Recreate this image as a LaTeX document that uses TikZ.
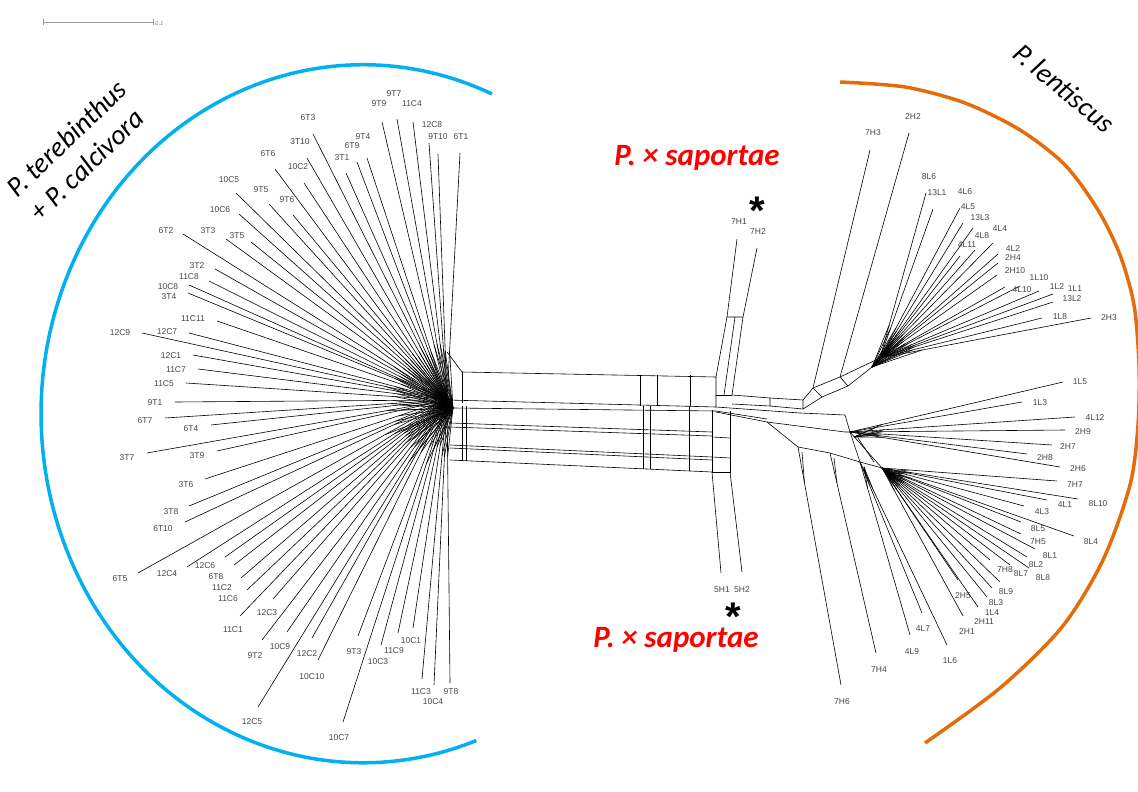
\documentclass[tikz,border=0pt]{standalone}
\usepackage{fontspec}
\setmainfont{Liberation Sans}
\newfontfamily\titlefont{Carlito}
\usetikzlibrary{calc}

\definecolor{cladeblue}{RGB}{0,176,240}
\definecolor{cladeorange}{RGB}{228,108,10}
\definecolor{labgray}{RGB}{70,70,70}

\tikzset{
  leaflab/.style={font=\fontsize{8.5}{9}\selectfont, text=labgray, inner sep=0pt},
  netline/.style={line width=0.6pt, black},
  cladearc/.style={line width=3.5pt},
  taxon/.style={font=\titlefont\itshape\fontsize{28}{33}\selectfont, inner sep=0pt},
  hybrid/.style={font=\titlefont\bfseries\itshape\fontsize{31}{34}\selectfont, text=red, inner sep=0pt},
  hstar/.style={font=\bfseries\fontsize{40}{40}\selectfont, inner sep=0pt, text height=14pt, text depth=0pt},
}

\begin{document}
\begin{tikzpicture}[x=1pt,y=-1pt]
\useasboundingbox (0,0) rectangle (1138,792);

% scale bar
\draw[gray!80, line width=0.6pt] (43,19) -- (43,25) (43,22) -- (153,22) (153,19) -- (153,25);
\node[font=\itshape\fontsize{6}{7}\selectfont, text=gray, anchor=west, inner sep=0pt] (scale) at (155,23) {0.1};

% hubs of the network
\coordinate (HL) at (447,400);
\coordinate (HLb) at (453,408);
\coordinate (HUR) at (880,358);
\coordinate (HURb) at (872,367);
\coordinate (HR1) at (850,432);
\coordinate (HR1b) at (858,438);
\coordinate (HR2) at (882,468);
\coordinate (HR2b) at (874,462);
\coordinate (HR3) at (860,462);
\coordinate (H5a) at (712,472);
\coordinate (H5b) at (730,472);
\coordinate (C7a) at (727,317);
\coordinate (C7m) at (735,317);
\coordinate (C7b) at (743,317);
\coordinate (H73) at (813,388);
\coordinate (H22) at (840,377);
\coordinate (H74) at (830,453);
\coordinate (H76) at (798,447);

% left fan (P. terebinthus + P. calcivora)
\foreach \n/\lx/\ly/\ex/\ey in {9T9/379/104/382/122, 9T7/394/94/397/119, 11C4/412/104/413/122,
  12C8/432/125/429/143, 9T10/438/137/438/154, 6T1/461/137/460/153, 6T3/308/118/313/134,
  3T10/300/142/307/158, 9T4/363/137/367/158, 6T9/352/146/357/162, 3T1/342/158/346/173,
  6T6/268/154/275/169, 10C2/298/167/304/183, 10C5/229/180/236/193, 9T5/261/190/269/204,
  9T6/287/200/293/215, 10C6/220/210/239/214, 6T2/166/231/183/234, 3T3/208/231/226/239,
  3T5/237/236/251/242, 3T2/197/266/215/269, 11C8/189/277/209/281, 10C8/168/287/189/285,
  3T4/169/297/188/293, 11C11/193/319/217/321, 12C9/120/333/142/333, 12C7/167/332/189/333,
  12C1/171/356/193/355, 11C7/176/370/198/369, 11C5/164/384/186/383, 9T1/155/403/175/402,
  6T7/145/421/165/418, 6T4/191/429/211/425, 3T7/127/458/147/453, 3T9/197/456/217/451,
  3T6/186/485/205/479, 3T8/171/512/189/506, 6T10/163/529/185/522, 6T5/120/579/138/573,
  12C4/167/574/187/567, 12C6/205/566/225/557, 6T8/216/577/234/565, 11C2/222/588/241/578,
  11C6/228/599/247/590, 12C3/267/613/273/599, 11C1/233/630/240/616, 10C9/280/647/287/632,
  9T2/255/656/262/640, 12C2/307/654/312/638, 10C10/312/677/318/660, 12C5/252/722/258/707,
  10C7/339/738/343/722, 9T3/354/652/358/636, 10C3/378/662/381/645, 11C9/394/651/398/633,
  10C1/411/641/413/628, 11C3/421/692/422/679, 10C4/433/702/434/685, 9T8/451/692/450/683}{
  \node[leaflab] (t\n) at (\lx,\ly) {\n};
  \coordinate (e\n) at (\ex,\ey);
  \draw[netline] (e\n) -- (HL);
  \draw[netline] ($(e\n)!0.8!(HL)$) -- (HLb);
}

% upper right fan (P. lentiscus)
\foreach \n/\lx/\ly/\ex/\ey in {8L6/929/177/926/193, 13L1/937/193/933/209, 4L6/965/192/960/208,
  4L5/968/207/963/223, 13L3/980/218/973/228, 4L4/1000/229/993/243, 4L8/982/236/975/250,
  4L11/967/245/960/256, 4L2/1013/249/998/254, 2H4/1013/258/998/263, 2H10/1015/271/997/275,
  1L10/1039/278/1020/286, 4L10/1022/290/1005/287, 1L2/1057/287/1039/291, 1L1/1075/289/1053/294,
  13L2/1072/299/1053/302, 1L8/1060/317/1042/318, 2H3/1109/318/1091/318}{
  \node[leaflab] (t\n) at (\lx,\ly) {\n};
  \coordinate (e\n) at (\ex,\ey);
  \draw[netline] (e\n) -- (HUR);
  \draw[netline] ($(e\n)!0.8!(HUR)$) -- (HURb);
}

% lower right fan
\foreach \n/\lx/\ly/\ex/\ey/\h in {1L5/1080/382/1063/382/HR1, 1L3/1040/403/1022/402/HR1,
  4L12/1095/418/1075/417/HR1, 2H9/1083/432/1065/430/HR1, 2H7/1068/447/1052/445/HR1,
  2H8/1045/458/1027/454/HR1, 2H6/1078/469/1060/467/HR1, 7H7/1075/485/1057/481/HR2,
  4L1/1065/505/1047/500/HR2, 8L10/1098/504/1078/499/HR2, 4L3/1042/512/1024/506/HR2,
  8L5/1038/529/1021/522/HR2, 7H5/1038/542/1021/534/HR2, 8L4/1091/542/1074/536/HR2,
  8L1/1050/556/1035/549/HR2, 8L2/1036/565/1027/557/HR2, 7H8/1005/570/990/560/HR2,
  8L7/1021/574/1010/565/HR2, 8L8/1043/578/1029/568/HR2, 8L9/1006/592/1000/582/HR2,
  2H5/963/596/958/580/HR2, 8L3/996/603/992/588/HR2, 1L4/992/613/987/597/HR2,
  2H11/984/622/978/607/HR2, 2H1/967/632/963/616/HR2, 4L7/923/629/922/613/HR3,
  4L9/912/652/910/635/HR3, 1L6/950/661/947/645/HR3, 7H4/879/670/876/653/H74,
  7H6/842/702/841/685/H76}{
  \node[leaflab] (t\n) at (\lx,\ly) {\n};
  \coordinate (e\n) at (\ex,\ey);
  \draw[netline] (e\n) -- (\h);
  \draw[netline] ($(e\n)!0.85!(\h)$) -- ($(\h)+(4,5)$);
}

% hybrids
\foreach \n/\lx/\ly/\ex/\ey/\h in {7H1/739/222/737/239/C7a, 7H2/758/232/757/248/C7b,
  5H1/722/590/721/573/H5a, 5H2/742/590/742/572/H5b, 7H3/873/133/870/150/H73,
  2H2/913/117/909/133/H22}{
  \node[leaflab] (t\n) at (\lx,\ly) {\n};
  \coordinate (e\n) at (\ex,\ey);
  \draw[netline] (e\n) -- (\h);
}

% central band, upper part
\draw[netline] (447,352) -- (462,372) -- (716,377) -- (716,407);
\draw[netline] (462,372) -- (462,403);
\foreach \xr in {640,657,690}{
  \draw[netline] (\xr,375) -- (\xr,406);
}
\draw[netline] (HL) -- (716,407) -- (800,413) -- (845,415);
\draw[netline] (HLb) -- (716,411) -- (767,419);
% central band, lower part
\draw[netline] (450,423) -- (712,432);
\draw[netline] (450,427) -- (712,436);
\draw[netline] (450,445) -- (712,457);
\draw[netline] (450,448) -- (712,460);
\draw[netline] (450,460) -- (H5a);
\foreach \xr/\yb in {462/461,466/461,643/469,650/469,689/471}{
  \draw[netline] (\xr,406) -- (\xr,\yb);
}
% 5H column
\draw[netline] (712,410) -- (H5a) -- (H5b) -- (730,411);
\draw[netline] (712,437) -- (730,438) (712,457) -- (730,458);
% 7H column
\draw[netline] (C7a) -- (716,377) (C7b) -- (732,395) (C7a) -- (C7b) (C7m) -- (724,395);
\draw[netline] (716,395) -- (732,395);
% upper right branch
\draw[netline] (732,395) -- (770,398) -- (803,400) -- (H73) -- (H22) -- (HUR);
\draw[netline] (732,404) -- (770,406) -- (803,409) -- (822,397) -- (848,386) -- (HURb);
\draw[netline] (770,398) -- (770,406) (803,400) -- (803,409) (H73) -- (822,397) (H22) -- (848,386);
% lower right branch
\draw[netline] (716,412) -- (767,422) -- (H76);
\draw[netline] (767,422) -- (845,432) -- (HR1);
\draw[netline] (H76) -- (H74) -- (HR3) -- (HR2);
\draw[netline] (845,415) -- (HR1) -- (HR2);
\draw[netline] (HR1b) -- (HR2b) (HR1) -- (HR3);

% clade arcs
\draw[cladearc, cladeblue] (492,94) arc[start angle=-66.4, end angle=-290.6, x radius=322, y radius=349];
\draw[cladearc, cladeorange] plot[smooth] coordinates {(840,82) (905,87) (965,103) (1020,130)
  (1065,165) (1098,210) (1120,255) (1134,305) (1139,365) (1138,425) (1130,485) (1103,560)
  (1062,627) (1000,688) (925,743)};

% taxon names
\node[taxon, rotate=44, align=left] (terebinthus) at (78,150) {P. terebinthus\\+ P. calcivora};
\node[taxon, rotate=-40] (lentiscus) at (1064,88) {P. lentiscus};
\node[hybrid] (saptop) at (697,158) {P. × saportae};
\node[hybrid] (sapbot) at (676,640) {P. × saportae};
\node[hstar] (startop) at (757,217) {*};
\node[hstar] (starbot) at (733,623) {*};
\end{tikzpicture}
\end{document}
